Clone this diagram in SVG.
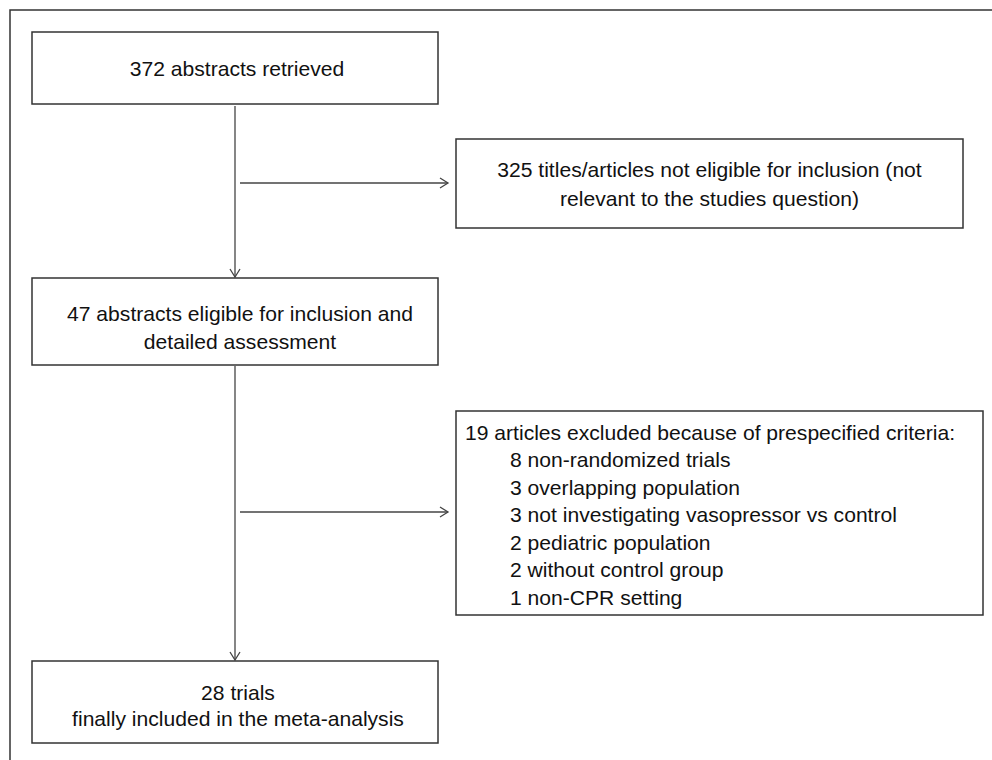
<svg xmlns="http://www.w3.org/2000/svg" width="992" height="760" viewBox="0 0 992 760">
<defs>
<style>
.box{fill:#fff;stroke:#333;stroke-width:1.5}
.ln{fill:none;stroke:#444;stroke-width:1.3}
text{font-family:"Liberation Sans",Arial,sans-serif;font-size:21.1px;fill:#111}
.c{text-anchor:middle}
</style>
<marker id="ah" markerWidth="12" markerHeight="12" refX="9" refY="6" orient="auto" markerUnits="userSpaceOnUse">
<path d="M1,1 L9,6 L1,11" fill="none" stroke="#444" stroke-width="1.3"/>
</marker>
</defs>
<rect width="992" height="760" fill="#fff"/>
<rect id="frame" x="10" y="10" width="1000" height="800" fill="none" stroke="#333" stroke-width="1.5"/>
<g id="connectors">
<line class="ln" x1="235" y1="106" x2="235" y2="277" marker-end="url(#ah)"/>
<line class="ln" x1="240" y1="183" x2="448" y2="183" marker-end="url(#ah)"/>
<line class="ln" x1="235" y1="366" x2="235" y2="660" marker-end="url(#ah)"/>
<line class="ln" x1="240" y1="512" x2="448" y2="512" marker-end="url(#ah)"/>
</g>
<g id="n1">
<rect class="box" x="32" y="32" width="406" height="72"/>
<text class="c" x="237" y="75.5">372 abstracts retrieved</text>
</g>
<g id="n2">
<rect class="box" x="456" y="139" width="507" height="89"/>
<text class="c" x="709.5" y="176.5">325 titles/articles not eligible for inclusion (not</text>
<text class="c" x="709.5" y="205.5">relevant to the studies question)</text>
</g>
<g id="n3">
<rect class="box" x="32" y="278" width="406" height="87"/>
<text class="c" x="240" y="320.5">47 abstracts eligible for inclusion and</text>
<text class="c" x="240" y="348.5">detailed assessment</text>
</g>
<g id="n4">
<rect class="box" x="456" y="411" width="527" height="204"/>
<text x="465" y="439.5">19 articles excluded because of prespecified criteria:</text>
<text x="510" y="467">8 non-randomized trials</text>
<text x="510" y="494.5">3 overlapping population</text>
<text x="510" y="522">3 not investigating vasopressor vs control</text>
<text x="510" y="549.5">2 pediatric population</text>
<text x="510" y="577">2 without control group</text>
<text x="510" y="604.5">1 non-CPR setting</text>
</g>
<g id="n5">
<rect class="box" x="32" y="661" width="406" height="82"/>
<text class="c" x="238" y="699.5">28 trials</text>
<text class="c" x="238" y="725.5">finally included in the meta-analysis</text>
</g>
</svg>
